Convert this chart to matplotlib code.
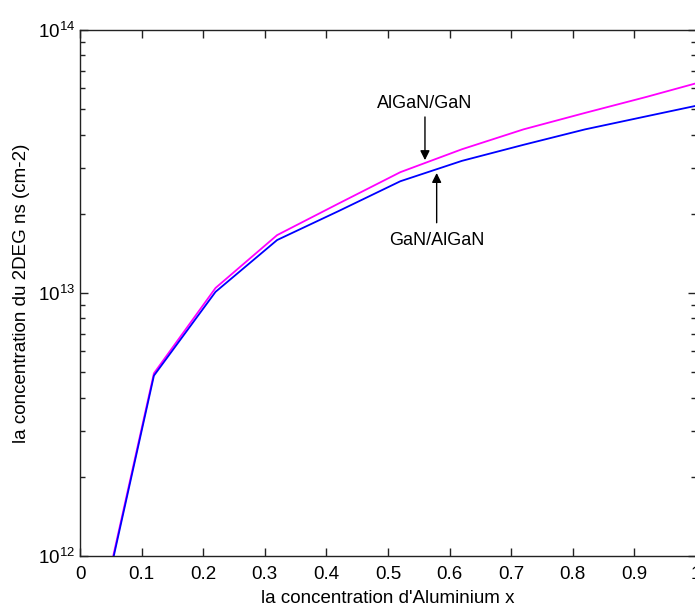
import matplotlib.pyplot as plt
from matplotlib.ticker import LogLocator, FixedLocator

# aluminium fraction and 2DEG sheet density (cm-2)
x_al = [0.02, 0.12, 0.22, 0.32, 0.42, 0.52, 0.62, 0.72, 0.82, 0.92, 1.0]
ns_algan_gan = [4.4e11, 4.95e12, 1.045e13, 1.66e13, 2.19e13, 2.88e13,
                3.52e13, 4.19e13, 4.84e13, 5.57e13, 6.27e13]
ns_gan_algan = [4.3e11, 4.85e12, 1.01e13, 1.59e13, 2.05e13, 2.66e13,
                3.18e13, 3.66e13, 4.19e13, 4.70e13, 5.15e13]

x_ticks = [0, 0.1, 0.2, 0.3, 0.4, 0.5, 0.6, 0.7, 0.8, 0.9, 1]
x_ticklabels = ['0', '0.1', '0.2', '0.3', '0.4', '0.5', '0.6', '0.7', '0.8', '0.9', '1']

plt.rcParams['font.family'] = ['Liberation Sans', 'DejaVu Sans']
plt.rcParams['mathtext.fontset'] = 'custom'
plt.rcParams['mathtext.rm'] = 'Liberation Sans'
plt.rcParams['mathtext.it'] = 'Liberation Sans'

fig = plt.figure(figsize=(6.95, 6.09), dpi=100)
ax = fig.add_axes([80 / 695, 1 - 556 / 609, 616 / 695, 526 / 609])

ax.semilogy(x_al, ns_algan_gan, color='#ff00ff', lw=1.3)
ax.semilogy(x_al, ns_gan_algan, color='#0000ff', lw=1.3)

ax.set_xlim(0, 1)
ax.set_ylim(1e12, 1e14)
ax.set_xticks(x_ticks)
ax.set_xticklabels(x_ticklabels)
ax.yaxis.set_major_locator(FixedLocator([1e12, 1e13, 1e14]))
ax.yaxis.set_minor_locator(LogLocator(base=10, subs=range(2, 10)))

ax.tick_params(which='both', direction='in', top=True, right=True,
               labelsize=13.5, color='#222222')
ax.tick_params(which='major', length=6, width=1)
ax.tick_params(which='minor', length=3.5, width=1)
ax.tick_params(axis='x', pad=7)
for s in ax.spines.values():
    s.set_color('#222222')
    s.set_linewidth(1)

ax.set_xlabel("la concentration d'Aluminium x", fontsize=13.5, labelpad=5)
ax.set_ylabel('la concentration du 2DEG ns (cm-2)', fontsize=13.5, labelpad=6)

# arrows and their labels
arrow = dict(arrowstyle='-|>', color='k', lw=1, mutation_scale=14, shrinkA=0, shrinkB=0)
ax.annotate('', xy=(0.56, 3.2e13), xytext=(0.56, 4.67e13), arrowprops=arrow)
ax.text(0.56, 5.27e13, 'AlGaN/GaN', ha='center', va='center', fontsize=13)
ax.annotate('', xy=(0.579, 2.86e13), xytext=(0.579, 1.85e13), arrowprops=arrow)
ax.text(0.579, 1.585e13, 'GaN/AlGaN', ha='center', va='center', fontsize=13)

fig.savefig('out.png', dpi=100)
